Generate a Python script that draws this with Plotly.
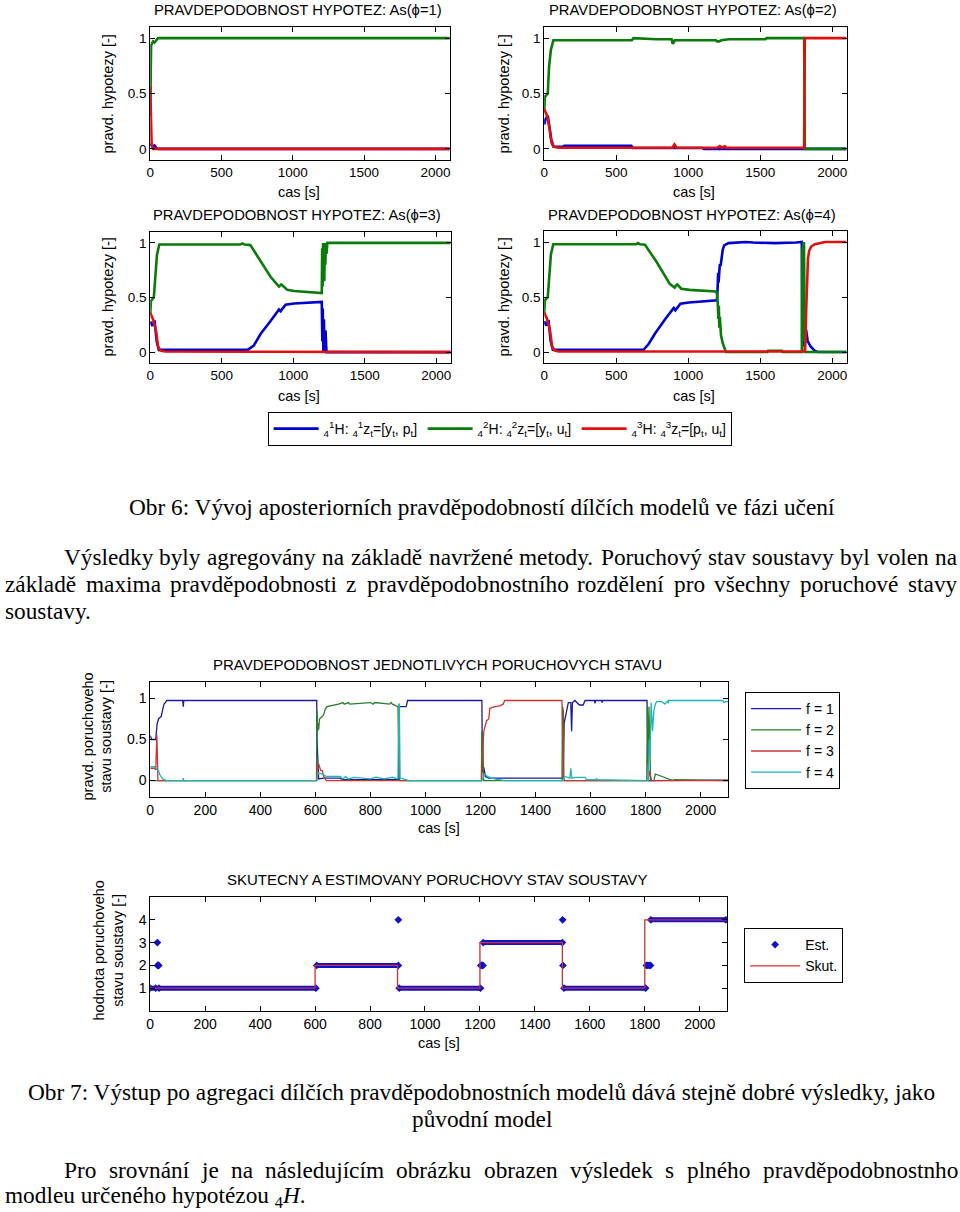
import unicodedata
import plotly.graph_objects as go

# ======================= DATA =======================
# --- As(phi=1) : hypothesis probabilities ---
h1_blue_t = [0, 5, 10, 20, 30, 45, 60, 2100]
h1_blue_v = [0.05, 0.03, 0.04, 0.02, 0.03, 0.005, 0.0, 0.0]
h1_green_t = [0, 3, 6, 12, 20, 30, 40, 55, 2100]
h1_green_v = [0.3, 0.62, 0.93, 0.95, 0.97, 0.96, 0.98, 1.0, 1.0]
h1_red_t = [0, 3, 6, 10, 20, 2100]
h1_red_v = [0.56, 0.4, 0.15, 0.03, 0.0, 0.0]

# --- As(phi=2) ---
h2_blue_t = [0, 10, 25, 35, 50, 65, 130, 140, 605, 615, 1100, 1110, 2100]
h2_blue_v = [0.22, 0.27, 0.3, 0.2, 0.08, 0.02, 0.02, 0.028, 0.028, 0.008, 0.008, 0.0, 0.0]
h2_green_t = [0, 5, 25, 34, 46, 64, 608, 620, 780, 885, 892, 900, 906, 1193, 1200, 1215, 1230,
              1284, 1537, 1545, 1805, 1810, 2100]
h2_green_v = [0.33, 0.47, 0.5, 0.74, 0.89, 0.98, 0.98, 1.0, 0.99, 0.99, 0.95, 0.96, 0.98, 0.98,
              0.97, 0.97, 0.98, 0.99, 0.99, 1.0, 1.0, 0.0, 0.0]
h2_red_t = [0, 20, 35, 50, 65, 100, 890, 905, 920, 1200, 1220, 1235, 1255, 1265, 1280, 1805, 1810, 2100]
h2_red_v = [0.36, 0.3, 0.2, 0.06, 0.02, 0.01, 0.01, 0.04, 0.01, 0.01, 0.025, 0.01, 0.025, 0.01,
            0.01, 0.01, 1.0, 1.0]

# --- As(phi=3) ---
h3_blue_t = [0, 15, 30, 45, 60, 130, 680, 724, 771, 841, 900, 911, 946, 1005, 1192, 1199, 1203,
             1206, 1210, 1214, 1218, 1225, 1232, 1238, 2100]
h3_blue_v = [0.28, 0.24, 0.29, 0.1, 0.02, 0.02, 0.02, 0.06, 0.165, 0.285, 0.39, 0.375, 0.435,
             0.445, 0.465, 0.46, 0.1, 0.4, 0.0, 0.3, 0.0, 0.2, 0.0, 0.0, 0.0]
h3_green_t = [0, 5, 25, 35, 47, 63, 630, 645, 660, 700, 771, 841, 900, 915, 925, 958, 1005, 1192,
              1199, 1202, 1205, 1208, 1211, 1214, 1217, 1220, 1224, 1228, 1232, 1238, 2100]
h3_green_v = [0.35, 0.47, 0.5, 0.7, 0.89, 0.985, 0.985, 0.995, 0.985, 0.98, 0.83, 0.69, 0.6, 0.62,
              0.61, 0.57, 0.56, 0.54, 0.54, 0.95, 0.6, 1.0, 0.7, 0.98, 0.65, 1.0, 0.8, 1.0, 0.9,
              1.0, 1.0]
h3_red_t = [0, 20, 40, 55, 70, 100, 2100]
h3_red_v = [0.36, 0.3, 0.2, 0.05, 0.015, 0.005, 0.0]

# --- As(phi=4) ---
h4_blue_t = [0, 15, 30, 45, 60, 130, 690, 724, 771, 841, 900, 911, 946, 1005, 1192, 1200, 1205,
             1208, 1211, 1215, 1220, 1225, 1232, 1240, 1250, 1262, 1280, 1400, 1450, 1600, 1700,
             1750, 1789, 1792, 1795, 1798, 1801, 1804, 1812, 1819, 1830, 1850, 1880, 1900, 2100]
h4_blue_v = [0.28, 0.24, 0.29, 0.1, 0.02, 0.02, 0.02, 0.07, 0.17, 0.3, 0.4, 0.38, 0.44, 0.45,
             0.465, 0.47, 0.6, 0.72, 0.63, 0.7, 0.8, 0.78, 0.87, 0.93, 0.97, 0.98, 0.99, 1.0,
             0.995, 0.99, 0.99, 0.995, 1.0, 0.1, 0.9, 0.05, 0.8, 0.05, 0.15, 0.2, 0.1, 0.05,
             0.01, 0.0, 0.0]
h4_green_t = [0, 5, 25, 35, 47, 63, 640, 650, 665, 700, 780, 872, 906, 918, 924, 952, 1009, 1193,
              1200, 1205, 1210, 1213, 1216, 1220, 1228, 1240, 1250, 1262, 1550, 1555, 1650, 1655,
              1789, 1792, 1795, 1798, 1801, 1804, 1808, 1812, 2100]
h4_green_v = [0.35, 0.47, 0.5, 0.7, 0.89, 0.98, 0.98, 0.99, 0.98, 0.975, 0.82, 0.62, 0.585, 0.61,
              0.615, 0.575, 0.565, 0.55, 0.53, 0.45, 0.3, 0.42, 0.22, 0.32, 0.15, 0.08, 0.05,
              0.0, 0.0, 0.012, 0.012, 0.0, 0.0, 0.95, 0.1, 1.0, 0.2, 1.0, 0.3, 0.0, 0.0]
h4_red_t = [0, 20, 40, 55, 70, 100, 1808, 1815, 1820, 1825, 1832, 1840, 1855, 1880, 1950, 2100]
h4_red_v = [0.36, 0.3, 0.2, 0.05, 0.015, 0.005, 0.005, 0.1, 0.4, 0.65, 0.85, 0.92, 0.96, 0.98,
            1.0, 1.0]

# --- probabilities of individual fault states f = 1..4 ---
f1_t = [0, 5, 20, 25, 30, 35, 40, 45, 50, 55, 60, 118, 120, 122, 605, 606, 612, 630, 690, 700,
        903, 905, 930, 935, 1205, 1207, 1212, 1218, 1230, 1290, 1500, 1504, 1513, 1519, 1528,
        1531, 1534, 1543, 1559, 1573, 1580, 1614, 1616, 1618, 1640, 1642, 1644, 1805, 1810, 2100]
f1_v = [0.55, 0.5, 0.5, 0.69, 0.75, 0.76, 0.78, 0.86, 0.93, 0.95, 0.975, 0.975, 0.9, 0.975,
        0.975, 0.5, 0.02, 0.03, 0.03, 0.01, 0.01, 0.9, 0.9, 0.975, 0.975, 0.1, 0.16, 0.05, 0.03,
        0.03, 0.03, 0.7, 0.87, 0.95, 0.95, 0.6, 0.95, 0.975, 0.92, 0.92, 0.975, 0.975, 0.94,
        0.975, 0.975, 0.95, 0.975, 0.975, 0.0, 0.005]
f2_t = [0, 604, 606, 608, 610, 612, 615, 618, 630, 636, 642, 684, 700, 705, 720, 725, 800, 810,
        815, 870, 875, 880, 900, 905, 907, 1203, 1205, 1207, 1209, 1211, 1496, 1498, 1501, 1503,
        1804, 1806, 1809, 1812, 1816, 1818, 1830, 1835, 1900, 1905, 2100]
f2_v = [0, 0, 0.85, 0.6, 0.7, 0.62, 0.75, 0.76, 0.8, 0.87, 0.9, 0.93, 0.95, 0.93, 0.95, 0.93,
        0.95, 0.93, 0.95, 0.93, 0.95, 0.93, 0.9, 0.03, 0.0, 0.0, 0.6, 0.3, 0.5, 0.0, 0.0, 0.9,
        0.85, 0.0, 0.0, 0.9, 0.2, 0.9, 0.05, 0.0, 0.0, 0.08, 0.0, 0.01, 0.0]
f3_t = [0, 15, 20, 24, 26, 28, 605, 607, 612, 620, 625, 630, 640, 1204, 1207, 1212, 1222, 1230,
        1234, 1252, 1270, 1282, 1288, 1496, 1501, 1505, 1810, 1814, 1818, 1822, 2100]
f3_v = [0.15, 0.15, 0.13, 0.55, 0.3, 0.0, 0.0, 0.2, 0.2, 0.12, 0.12, 0.05, 0.0, 0.0, 0.3, 0.6,
        0.73, 0.75, 0.88, 0.9, 0.91, 0.93, 0.975, 0.975, 0.02, 0.0, 0.0, 0.12, 0.05, 0.0, 0.0]
f4_t = [0, 15, 20, 30, 35, 45, 60, 118, 120, 122, 605, 610, 630, 640, 690, 700, 710, 720, 740,
        800, 820, 850, 880, 900, 903, 905, 908, 920, 940, 1205, 1215, 1225, 1240, 1260, 1290,
        1500, 1505, 1525, 1528, 1532, 1545, 1580, 1585, 1620, 1622, 1624, 1810, 1813, 1816,
        1820, 1825, 1830, 1835, 1840, 1860, 1870, 1880, 1882, 1884, 2080, 2085, 2090, 2100]
f4_v = [0.17, 0.17, 0.15, 0.12, 0.07, 0.02, 0.0, 0.0, 0.03, 0.0, 0.0, 0.1, 0.07, 0.05, 0.05,
        0.02, 0.05, 0.02, 0.04, 0.02, 0.04, 0.02, 0.04, 0.02, 0.93, 0.93, 0.03, 0.02, 0.0, 0.0,
        0.08, 0.05, 0.03, 0.015, 0.0, 0.0, 0.05, 0.03, 0.15, 0.03, 0.04, 0.04, 0.01, 0.01, 0.03,
        0.01, 0.0, 0.5, 0.3, 0.95, 0.6, 0.85, 0.93, 0.96, 0.96, 0.93, 0.97, 0.94, 0.975, 0.975,
        0.95, 0.96, 0.96]

# --- real (Skut.) and estimated (Est.) fault state ---
skut_t = [0, 600, 900, 1200, 1500, 1800, 2100]
skut_v = [1, 2, 1, 3, 1, 4, 4]
est_seg_start = [0, 32, 606, 906, 1212, 1506, 1822]
est_seg_end = [20, 603, 903, 1202, 1500, 1803, 2095]
est_seg_val = [1, 1, 2, 1, 3, 1, 4]
est_out_t = [26, 27, 28, 29, 31, 903, 1203, 1206, 1209, 1211, 1501, 1502, 1806, 1811, 1816, 1821]
est_out_v = [3, 2, 2, 2, 2, 4, 2, 2, 2, 2, 4, 2, 2, 2, 2, 2]

# tick labels
top_xticks = [0, 500, 1000, 1500, 2000]
top_yticks = [0, 0.5, 1]
top_yticktext = ["0", "0.5", "1"]
bot_xticks = [0, 200, 400, 600, 800, 1000, 1200, 1400, 1600, 1800, 2000]
f_yticks = [0, 0.5, 1]
f_yticktext = ["0", "0.5", "1"]
s_yticks = [1, 2, 3, 4]

hyp_names = [
    "<sub>4</sub><sup>1</sup>H: <sub>4</sub><sup>1</sup>z<sub>t</sub>=[y<sub>t</sub>, p<sub>t</sub>]",
    "<sub>4</sub><sup>2</sup>H: <sub>4</sub><sup>2</sup>z<sub>t</sub>=[y<sub>t</sub>, u<sub>t</sub>]",
    "<sub>4</sub><sup>3</sup>H: <sub>4</sub><sup>3</sup>z<sub>t</sub>=[p<sub>t</sub>, u<sub>t</sub>]",
]
f_names = ["f = 1", "f = 2", "f = 3", "f = 4"]

# ======================= LAYOUT HELPERS =======================
W, H = 960, 1212


def X(px):
    return px / W


def Y(py):
    return 1 - py / H


SANS = "Liberation Sans, Arial, sans-serif"
SERIF = "Liberation Serif, Times New Roman, serif"
HC = ["#0000cc", "#0a7a0a", "#e01010"]           # hypothesis colours
FC = ["#1a1a9a", "#2a7d2a", "#cc3333", "#20b4b4"]  # fault state colours

fig = go.Figure()

# ---------- four hypothesis panels ----------
hyp_data = [
    [(h1_blue_t, h1_blue_v), (h1_green_t, h1_green_v), (h1_red_t, h1_red_v)],
    [(h2_blue_t, h2_blue_v), (h2_green_t, h2_green_v), (h2_red_t, h2_red_v)],
    [(h3_blue_t, h3_blue_v), (h3_green_t, h3_green_v), (h3_red_t, h3_red_v)],
    [(h4_blue_t, h4_blue_v), (h4_green_t, h4_green_v), (h4_red_t, h4_red_v)],
]
for p, series in enumerate(hyp_data):
    ax = "" if p == 0 else str(p + 1)
    for s, (t, v) in enumerate(series):
        fig.add_trace(go.Scatter(
            x=t, y=v, mode="lines", name=hyp_names[s],
            line=dict(color=HC[s], width=2.6),
            xaxis="x" + ax, yaxis="y" + ax,
            showlegend=(p == 0), legend="legend", hoverinfo="skip"))

# ---------- fault state probabilities ----------
for k, (t, v) in enumerate([(f1_t, f1_v), (f2_t, f2_v), (f3_t, f3_v), (f4_t, f4_v)]):
    fig.add_trace(go.Scatter(
        x=t, y=v, mode="lines", name=f_names[k],
        line=dict(color=FC[k], width=1.3),
        xaxis="x5", yaxis="y5", legend="legend2"))

# ---------- real and estimated fault state ----------
band_x, band_y = [], []
for s, e, v in zip(est_seg_start, est_seg_end, est_seg_val):
    band_x += [s, e, None]
    band_y += [v, v, None]
fig.add_trace(go.Scatter(
    x=band_x, y=band_y, mode="lines+markers",
    line=dict(color="#1010c8", width=5),
    marker=dict(symbol="diamond", size=6, color="#1010c8"),
    xaxis="x6", yaxis="y6", showlegend=False, legendgroup="est", legend="legend3"))
fig.add_trace(go.Scatter(
    x=est_out_t, y=est_out_v, mode="markers", name="Est.",
    marker=dict(symbol="diamond", size=6, color="#1010c8"),
    xaxis="x6", yaxis="y6", legendgroup="est", legend="legend3"))
fig.add_trace(go.Scatter(
    x=skut_t, y=skut_v, mode="lines", name="Skut.", line_shape="hv",
    line=dict(color="#cc3333", width=1.3),
    xaxis="x6", yaxis="y6", legend="legend3"))

# ---------- axes ----------
panels = [(147, 448, 27, 160), (543, 847, 27, 160), (147, 449, 232, 363),
          (543, 847, 231, 363), (147, 728, 682, 797), (147, 727, 897, 1011)]
common = dict(showline=True, linecolor="black", linewidth=1, mirror="ticks",
              ticks="inside", ticklen=5, tickcolor="black", showgrid=False,
              zeroline=False, fixedrange=True)
lay = {}
for i, (l, r, t, b) in enumerate(panels):
    n = "" if i == 0 else str(i + 1)
    fs = 13.5 if i < 4 else 14
    xa = dict(common, domain=[X(l), X(r)], anchor="y" + n, range=[0, 2100],
              tickfont=dict(family=SANS, size=fs, color="black"))
    ya = dict(common, domain=[Y(b), Y(t)], anchor="x" + n,
              tickfont=dict(family=SANS, size=fs, color="black"))
    if i < 4:
        xa["tickvals"] = top_xticks
        ya.update(range=[-0.1, 1.1], tickvals=top_yticks, ticktext=top_yticktext)
    elif i == 4:
        xa["tickvals"] = bot_xticks
        ya.update(range=[-0.2, 1.2], tickvals=f_yticks, ticktext=f_yticktext)
    else:
        xa["tickvals"] = bot_xticks
        ya.update(range=[0, 5], tickvals=s_yticks)
    lay["xaxis" + n] = xa
    lay["yaxis" + n] = ya

fig.update_layout(**lay)

# ---------- annotations ----------
ann = []


def txt(x, y, s, size, family=SANS, angle=0, xanchor="center"):
    ann.append(dict(x=X(x), y=Y(y), xref="paper", yref="paper", text=s, showarrow=False,
                    xanchor=xanchor, yanchor="middle", textangle=angle,
                    font=dict(family=family, size=size, color="black")))


titles = ["PRAVDEPODOBNOST HYPOTEZ: As(ϕ=1)", "PRAVDEPODOBNOST HYPOTEZ: As(ϕ=2)",
          "PRAVDEPODOBNOST HYPOTEZ: As(ϕ=3)", "PRAVDEPODOBNOST HYPOTEZ: As(ϕ=4)"]
txt(296, 10, titles[0], 14.8)
txt(693, 10, titles[1], 14.8)
txt(295, 215, titles[2], 14.8)
txt(692, 215, titles[3], 14.8)
for cx, cy in [(297, 192), (694, 192), (297, 396), (694, 396)]:
    txt(cx, cy, "cas [s]", 14.5)
for cx, cy in [(105, 94), (503, 94), (105, 297), (503, 297)]:
    txt(cx, cy, "pravd. hypotezy [-]", 14.5, angle=-90)

txt(436, 664, "PRAVDEPODOBNOST JEDNOTLIVYCH PORUCHOVYCH STAVU", 15)
txt(437, 828, "cas [s]", 14.5)
txt(94, 737, "pravd. poruchoveho<br>stavu soustavy [-]", 14.5, angle=-90)
txt(435, 879, "SKUTECNY A ESTIMOVANY PORUCHOVY STAV SOUSTAVY", 15)
txt(437, 1043, "cas [s]", 14.5)
txt(105, 950, "hodnota poruchoveho<br>stavu soustavy [-]", 14.5, angle=-90)

# ---------- document text (Times) ----------
TS = 23.3
TW = dict(a=444, b=500, c=444, d=500, e=444, f=333, g=500, h=500, i=278, j=278, k=500,
          l=278, m=778, n=500, o=500, p=500, q=500, r=333, s=389, t=278, u=500, v=500,
          w=722, x=500, y=500, z=444, P=556, V=722, O=722, H=722)
TW.update({".": 250, ",": 250, ":": 278, "6": 500, "7": 500})


def word_width(w, size):
    tot = 0
    for ch in w:
        base = unicodedata.normalize("NFD", ch)[0]
        tot += TW.get(base, 500)
    return tot * size / 1000.0


def justified(line, x0, x1, yc, size):
    words = line.split(" ")
    widths = [word_width(w, size) for w in words]
    gap = (x1 - x0 - sum(widths)) / (len(words) - 1)
    x = x0
    for w, wd in zip(words, widths):
        txt(x - 1, yc, w, size, family=SERIF, xanchor="left")
        x += wd + gap


txt(480, 507, "Obr 6: Vývoj aposteriorních pravděpodobností dílčích modelů ve fázi učení", TS, SERIF)
justified("Výsledky byly agregovány na základě navržené metody. Poruchový stav soustavy byl volen na",
          59, 957, 557, TS)
justified("základě maxima pravděpodobnosti z pravděpodobnostního rozdělení pro všechny poruchové stavy",
          0, 957, 584, TS)
txt(-1, 611, "soustavy.", TS, SERIF, xanchor="left")
txt(480, 1092, "Obr 7: Výstup po agregaci dílčích pravděpodobnostních modelů dává stejně dobré výsledky, jako",
    TS, SERIF)
txt(480, 1119, "původní model", TS, SERIF)
justified("Pro srovnání je na následujícím obrázku obrazen výsledek s plného pravděpodobnostnho",
          59, 957, 1170, TS)
txt(-1, 1197, "modleu určeného hypotézou <sub>4</sub><i>H</i>.", TS, SERIF, xanchor="left")

fig.update_layout(
    width=W, height=H, margin=dict(l=0, r=0, t=0, b=0),
    paper_bgcolor="white", plot_bgcolor="white",
    annotations=ann,
    legend=dict(orientation="h", x=X(265), y=Y(412), xanchor="left", yanchor="top",
                bordercolor="black", borderwidth=1, bgcolor="white",
                font=dict(family=SANS, size=14, color="black"),
                itemwidth=45, entrywidth=94, entrywidthmode="pixels"),
    legend2=dict(x=X(745), y=Y(692), xanchor="left", yanchor="top",
                 bordercolor="black", borderwidth=1, bgcolor="white", itemwidth=50,
                 font=dict(family=SANS, size=14, color="black"), tracegroupgap=0),
    legend3=dict(x=X(744), y=Y(928), xanchor="left", yanchor="top",
                 bordercolor="black", borderwidth=1, bgcolor="white", itemwidth=50,
                 font=dict(family=SANS, size=14, color="black"), tracegroupgap=0),
    hovermode=False,
)

fig.write_html("out.html", config={"displayModeBar": False},
               post_script="document.body.style.margin='0';")
